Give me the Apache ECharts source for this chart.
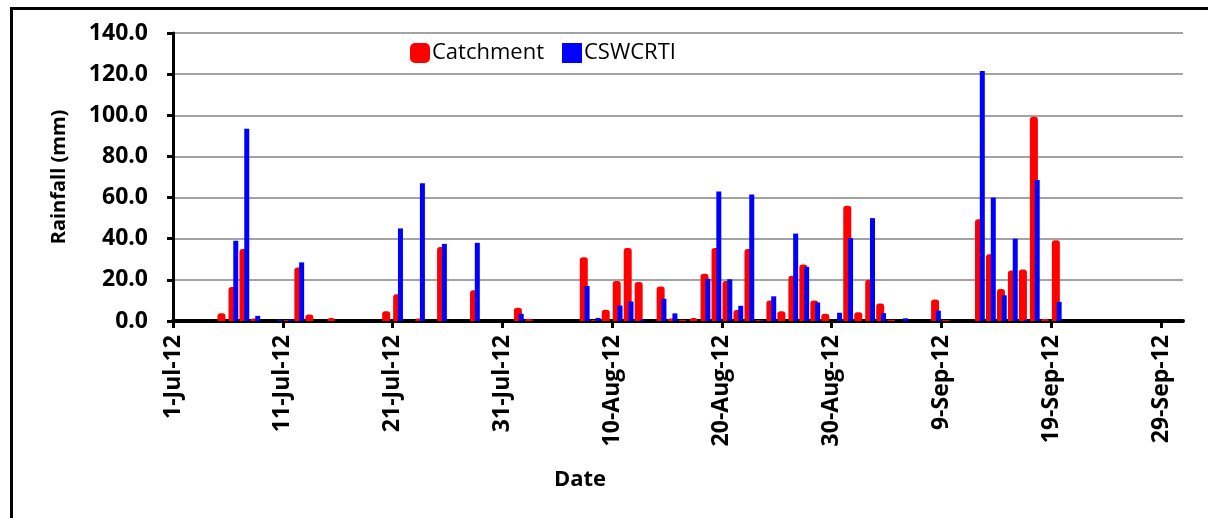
<!DOCTYPE html>
<html>
<head>
<meta charset="utf-8">
<script src="https://cdn.jsdelivr.net/npm/echarts@6/dist/echarts.min.js"></script>
<style>
  html, body { margin: 0; padding: 0; background: #fff; }
  #main { width: 1208px; height: 518px; }
</style>
</head>
<body>
<div id="main"></div>
<script>
// daily rainfall (mm), day 0 = 1-Jul-12 ... day 91 = 30-Sep-12
const catchment = [
  0, 0, 0, 0, 3.8, 16.5, 35, 1.2, 0, 0,
  0.5, 26, 3.2, 0, 1.5, 0, 0, 0, 0, 4.8,
  13, 0, 1.2, 0, 36, 0, 0, 15, 0, 0,
  0, 6.5, 1, 0, 0, 0, 0, 31, 0.5, 5.5,
  19.5, 35.5, 19, 0, 16.8, 1.2, 0.6, 1.5, 23, 35.5,
  19.5, 5.3, 35, 0.5, 10, 4.7, 22, 27.5, 10, 3.5,
  0, 56, 4.3, 20, 8.5, 0.6, 0, 0, 0, 10.5,
  0.5, 0, 0, 49.5, 32.5, 15.5, 24.5, 25, 99.3, 1,
  39.3, 0, 0, 0, 0, 0, 0, 0, 0, 0,
  0, 0
];
const cswcrti = [
  0, 0, 0, 0, 0, 39, 93.5, 2.5, 0, 0.8,
  0.8, 28.5, 0, 0, 0, 0, 0, 0, 0, 0,
  45, 0, 67, 0, 37.5, 0, 0, 38, 0, 0,
  0, 3.5, 0, 0, 0, 0, 0, 17, 1.5, 0,
  7.5, 9.5, 0.7, 0, 10.8, 3.7, 0, 0, 20.5, 63,
  20.3, 7.4, 61.5, 0.3, 12, 0, 42.5, 26.3, 9, 0,
  4, 40.3, 0, 50, 3.8, 0, 1.3, 0, 0, 5,
  0, 0, 0, 121.5, 60, 12.5, 40, 0.6, 68.5, 0,
  9.3, 0, 0, 0, 0, 0, 0, 0, 0, 0,
  0, 0
];
const tickDays = [0, 10, 20, 30, 40, 50, 60, 70, 80, 90];
const tickLabels = ['1-Jul-12', '11-Jul-12', '21-Jul-12', '31-Jul-12', '10-Aug-12',
  '20-Aug-12', '30-Aug-12', '9-Sep-12', '19-Sep-12', '29-Sep-12'];
const yTicks = [0, 20, 40, 60, 80, 100, 120, 140];

const FONT = '"Open Sans", "Liberation Sans", sans-serif';

let myChart = echarts.init(document.getElementById('main'));

function toPoints(arr) {
  // bar sits in the middle of its day
  return arr.map(function (v, i) { return [i + 0.5, v]; });
}

const option = {
  animation: false,
  backgroundColor: '#fff',
  textStyle: { fontFamily: FONT },
  grid: {
    left: 173,
    right: 25,
    top: 33,
    bottom: 197
  },
  legend: {
    left: 405,
    top: 37,
    itemWidth: 20,
    itemHeight: 20,
    itemGap: 18,
    textStyle: { fontSize: 22, color: '#000', fontFamily: FONT, padding: [0, 0, 0, -3] },
    data: [
      { name: 'Catchment', icon: 'roundRect' },
      { name: 'CSWCRTI', icon: 'rect', itemStyle: { color: '#0000ff' } }
    ]
  },
  xAxis: {
    type: 'value',
    min: 0,
    max: catchment.length,
    interval: 10,
    axisLine: { show: true, onZero: false, lineStyle: { color: '#000', width: 4 } },
    axisTick: {
      show: true,
      customValues: tickDays,
      length: 7,
      lineStyle: { color: '#000', width: 3 }
    },
    axisLabel: {
      customValues: tickDays,
      rotate: 90,
      margin: 14,
      fontSize: 23,
      fontWeight: 'bold',
      color: '#000',
      fontFamily: FONT,
      formatter: function (v) {
        const k = tickDays.indexOf(v);
        return k >= 0 ? tickLabels[k] : '';
      }
    },
    splitLine: { show: false }
  },
  yAxis: {
    type: 'value',
    min: yTicks[0],
    max: yTicks[yTicks.length - 1],
    interval: 20,
    name: 'Rainfall (mm)',
    nameLocation: 'middle',
    nameRotate: 90,
    nameGap: 104,
    nameTextStyle: { fontSize: 20, fontWeight: 'bold', color: '#000', fontFamily: FONT },
    axisLine: { show: true, lineStyle: { color: '#000', width: 3 } },
    axisTick: { show: true, length: 6, lineStyle: { color: '#000', width: 3 } },
    axisLabel: {
      margin: 25,
      fontSize: 23,
      fontWeight: 'bold',
      color: '#000',
      fontFamily: FONT,
      formatter: function (v) { return v.toFixed(1); }
    },
    splitLine: { show: true, lineStyle: { color: '#a3a3a3', width: 2 } }
  },
  series: [
    {
      name: 'Catchment',
      type: 'bar',
      barWidth: 8,
      barGap: '-40%',
      itemStyle: { color: '#ff0000', borderRadius: [3, 3, 0, 0] },
      data: toPoints(catchment)
    },
    {
      name: 'CSWCRTI',
      type: 'bar',
      barWidth: 5,
      itemStyle: { color: '#0000ff' },
      data: toPoints(cswcrti)
    }
  ],
  graphic: [
    {
      type: 'text',
      left: 554,
      top: 469,
      style: { text: 'Date', fontSize: 22, fontWeight: 'bold', fill: '#000', fontFamily: FONT }
    },
    // frame of the chart area (top and left edges visible)
    {
      type: 'line',
      shape: { x1: 10, y1: 8.5, x2: 1208, y2: 8.5 },
      style: { stroke: '#000', lineWidth: 3 }
    },
    {
      type: 'line',
      shape: { x1: 11.5, y1: 7, x2: 11.5, y2: 518 },
      style: { stroke: '#000', lineWidth: 3 }
    }
  ]
};

myChart.setOption(option);
</script>
</body>
</html>
